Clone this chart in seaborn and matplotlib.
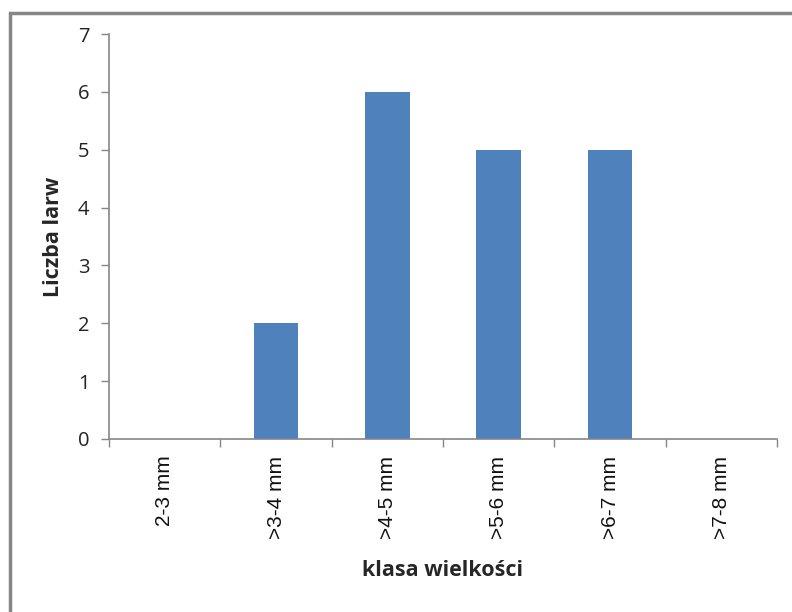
import matplotlib
matplotlib.use("Agg")
import matplotlib.pyplot as plt
from matplotlib.lines import Line2D
from matplotlib.ticker import FixedLocator
import seaborn as sns
import pandas as pd

# Size classes and larva counts
classes = ["2-3 mm", ">3-4 mm", ">4-5 mm", ">5-6 mm", ">6-7 mm", ">7-8 mm"]
counts = [0, 2, 6, 5, 5, 0]
y_ticks = [0, 1, 2, 3, 4, 5, 6, 7]

df = pd.DataFrame({"klasa": classes, "liczba": counts})

sns.set_theme(style="white")
plt.rcParams["font.family"] = ["Open Sans", "DejaVu Sans"]

axis_grey = "#868686"
fig = plt.figure(figsize=(7.92, 6.12), dpi=100)
ax = fig.add_axes([109 / 792, 1 - 439 / 612, 668 / 792, 405 / 612])

sns.barplot(data=df, x="klasa", y="liczba", color="#4F81BD", width=0.4,
            saturation=1, linewidth=0, ax=ax)

ax.set_xlim(-0.5, len(classes) - 0.5)
ax.set_ylim(0, 7)
ax.set_yticks(y_ticks)
ax.set_yticklabels([str(v) for v in y_ticks], fontsize=14.5, color="#222222")

ax.set_xticks(range(len(classes)))
ax.set_xticklabels(classes, rotation=90, fontsize=15, color="#111111",
                   family=["Liberation Sans", "DejaVu Sans"])
ax.xaxis.set_minor_locator(FixedLocator([i - 0.5 for i in range(len(classes) + 1)]))
ax.tick_params(axis="x", which="major", length=0, pad=12)
ax.tick_params(axis="x", which="minor", length=6, width=1, color=axis_grey,
               direction="out", bottom=True)
ax.tick_params(axis="y", which="major", length=6, width=1, color=axis_grey,
               direction="out", left=True, pad=8)

for side in ("top", "right"):
    ax.spines[side].set_visible(False)
for side in ("left", "bottom"):
    ax.spines[side].set_color(axis_grey)
    ax.spines[side].set_linewidth(1.2)

ax.set_xlabel("klasa wielkości", fontsize=15.5, fontweight="bold", labelpad=15)
ax.set_ylabel("Liczba larw", fontsize=15.5, fontweight="bold", labelpad=10)

# Chart-area frame along the top and left edges
fig.add_artist(Line2D([9.5 / 792, 9.5 / 792, 1.0], [0.0, 1 - 12.5 / 612, 1 - 12.5 / 612],
                      transform=fig.transFigure, color=axis_grey, linewidth=2.5,
                      solid_joinstyle="miter"))

fig.savefig("out.png", dpi=100, facecolor="white")
